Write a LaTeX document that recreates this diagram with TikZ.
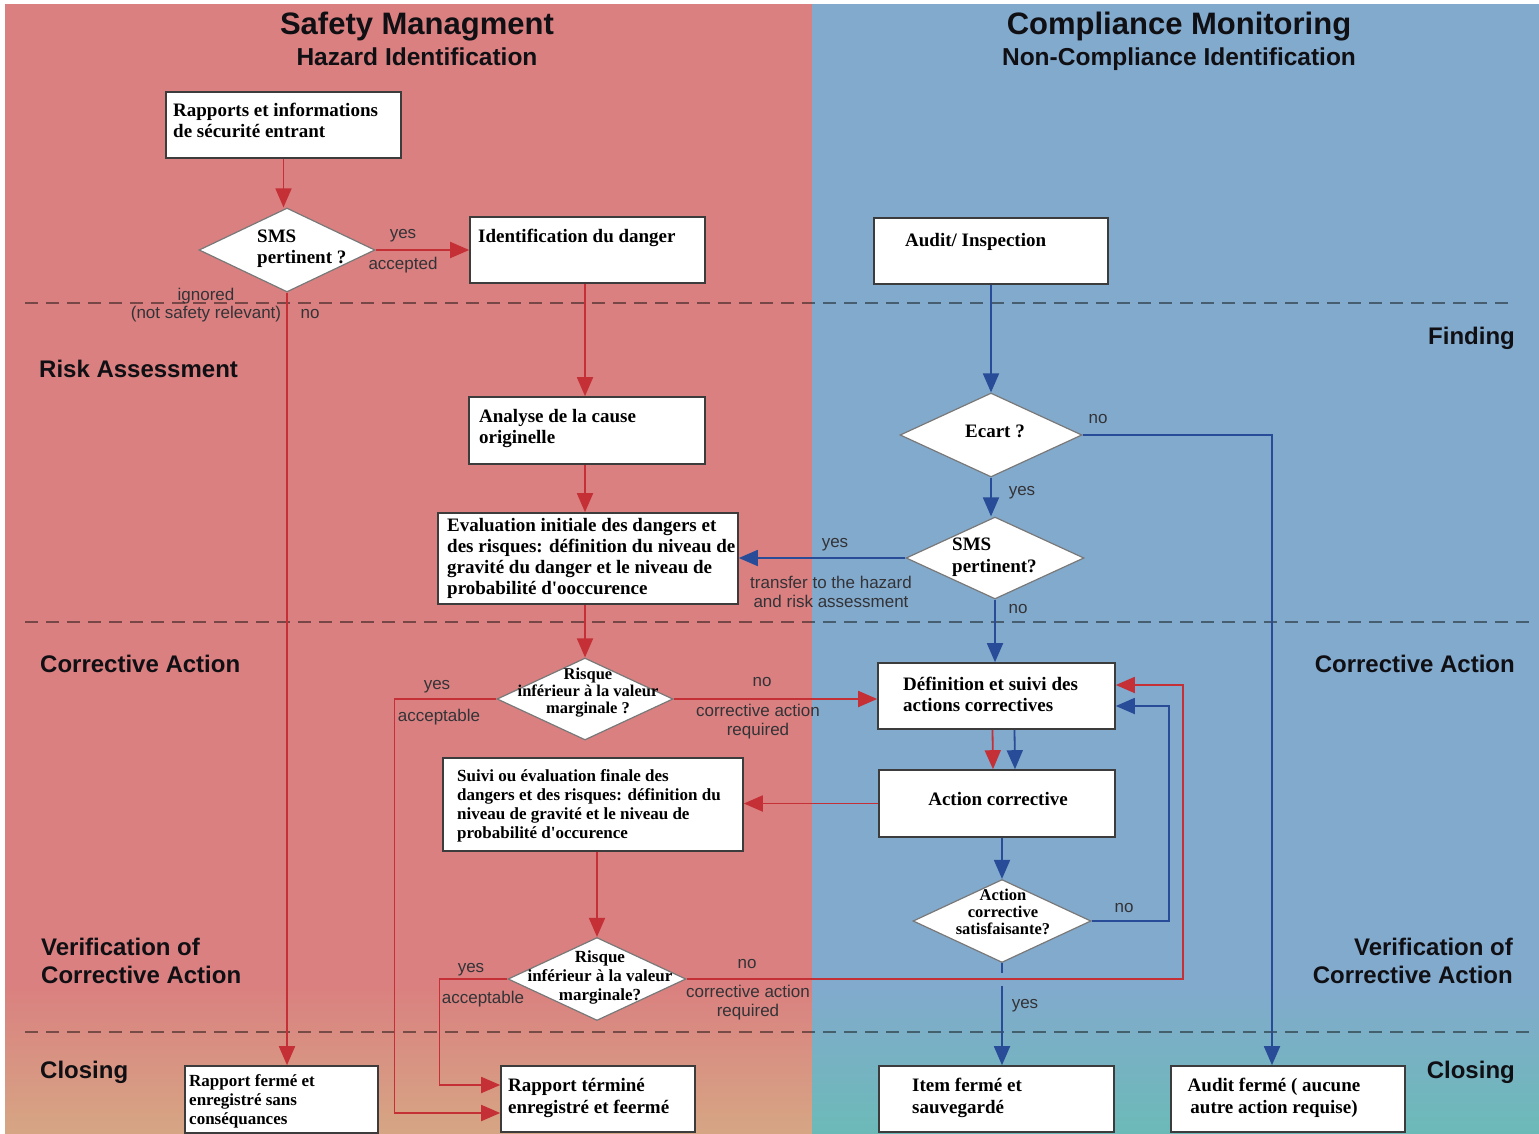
\documentclass[tikz,border=0pt]{standalone}
\usepackage{fontspec}
\setmainfont{Liberation Serif}
\newfontfamily\sansfam{Liberation Sans}
\usetikzlibrary{shapes.geometric,arrows.meta}

\definecolor{panelred}{RGB}{218,128,128}
\definecolor{paneltan}{RGB}{214,166,132}
\definecolor{panelblue}{RGB}{130,170,205}
\definecolor{panelteal}{RGB}{108,186,184}
\definecolor{redline}{RGB}{196,48,54}
\definecolor{blueline}{RGB}{40,76,152}
\definecolor{boxline}{RGB}{60,60,60}
\definecolor{diaedge}{RGB}{120,120,120}
\definecolor{ink}{RGB}{15,15,20}

\begin{document}
\begin{tikzpicture}[x=1pt,y=-1pt,
  box/.style={draw=boxline, fill=white, line width=1.6pt, inner sep=0pt},
  dia/.style={diamond, draw=diaedge, fill=white, line width=1.2pt, inner sep=0pt},
  btx/.style={font=\fontsize{19}{21}\selectfont\bfseries, align=left, inner sep=0pt, anchor=base west, text=black},
  btxs/.style={btx, font=\fontsize{17}{19}\selectfont\bfseries},
  dtx/.style={font=\fontsize{16.5}{17}\selectfont\bfseries, align=center, inner sep=0pt, anchor=base},
  dtxm/.style={dtx, font=\fontsize{17}{19}\selectfont\bfseries},
  lbl/.style={font=\sansfam\fontsize{17}{19}\selectfont, inner sep=0pt, anchor=base, text=ink!85},
  sect/.style={font=\sansfam\bfseries\fontsize{24}{28}\selectfont, inner sep=0pt, align=left, anchor=base west, text=ink},
  sectr/.style={sect, align=right, anchor=base east},
  ttl/.style={font=\sansfam\bfseries\fontsize{31}{34}\selectfont, inner sep=0pt, anchor=base, text=ink},
  subttl/.style={font=\sansfam\bfseries\fontsize{24.5}{28}\selectfont, inner sep=0pt, anchor=base, text=ink},
  sep/.style={draw=black, draw opacity=0.45, line width=2pt, dash pattern=on 13pt off 8pt},
  tip/.style={-{Triangle[length=19pt,width=16pt]}},
  rl/.style={draw=redline, line width=1.8pt},
  bl/.style={draw=blueline, line width=1.8pt},
]
% page and the two panels
\useasboundingbox (0,0) rectangle (1539,1134);
\fill[white] (0,0) rectangle (1539,1134);
\fill[panelred] (5,4) rectangle (812,1134);
\fill[panelblue] (812,4) rectangle (1539,1134);
\shade[top color=panelred, bottom color=paneltan] (5,985) rectangle (812,1134);
\shade[top color=panelblue, bottom color=panelteal] (812,985) rectangle (1539,1134);

% phase separators
\draw[sep] (25,303) -- (1515,303);
\draw[sep] (25,622) -- (1530,622);
\draw[sep] (25,1032) -- (1530,1032);

% headings
\node[ttl] (h1) at (417,35) {Safety Managment};
\node[subttl] (h2) at (417,66) {Hazard Identification};
\node[ttl] (h3) at (1179,35) {Compliance Monitoring};
\node[subttl] (h4) at (1179,66) {Non-Compliance Identification};

% phase names (multi-line nodes sit on their last baseline)
\node[sect] (s1) at (39,377) {Risk Assessment};
\node[sectr] (s2) at (1515,344) {Finding};
\node[sect] (s3) at (40,672) {Corrective Action};
\node[sectr] (s4) at (1515,672) {Corrective Action};
\node[sect] (s5) at (41,983) {Verification of\\Corrective Action};
\node[sectr] (s6) at (1513,983) {Verification of\\Corrective Action};
\node[sect] (s7) at (40,1078) {Closing};
\node[sectr] (s8) at (1515,1078) {Closing};

% process boxes
\node[box, minimum width=235, minimum height=66] (rap) at (283.5,125) {};
\node[box, minimum width=235, minimum height=66] (ident) at (587.5,250) {};
\node[box, minimum width=234, minimum height=66] (audit) at (991,251) {};
\node[box, minimum width=236, minimum height=67] (analyse) at (587,430.5) {};
\node[box, minimum width=300, minimum height=91] (evalinit) at (588,558.5) {};
\node[box, minimum width=237, minimum height=66] (defin) at (996.5,696) {};
\node[box, minimum width=236, minimum height=67] (actcor) at (997,803.5) {};
\node[box, minimum width=300, minimum height=93] (suivi) at (593,804.5) {};
\node[box, minimum width=193, minimum height=67] (closed1) at (281.5,1099.5) {};
\node[box, minimum width=194, minimum height=66] (closed2) at (598,1099) {};
\node[box, minimum width=235, minimum height=66] (item) at (996.5,1099) {};
\node[box, minimum width=234, minimum height=66] (auditclosed) at (1288,1099) {};

% decisions
\node[dia, minimum width=176, minimum height=84] (d1) at (287,250) {};
\node[dia, minimum width=182, minimum height=84] (d2) at (991,435) {};
\node[dia, minimum width=178, minimum height=82] (d3) at (995,558) {};
\node[dia, minimum width=176, minimum height=82] (d4) at (585,699) {};
\node[dia, minimum width=178, minimum height=83] (d5) at (1002,921) {};
\node[dia, minimum width=178, minimum height=83] (d6) at (597,979) {};

% box texts
\node[btx] at (173,138) {Rapports et informations\\de sécurité entrant};
\node[btx] at (478,242) {Identification du danger};
\node[btx] at (905,247) {Audit/ Inspection};
\node[btx] at (479,443) {Analyse de la cause\\originelle};
\node[btx] at (447,594) {Evaluation initiale des dangers et\\des risques: définition du niveau de\\gravité du danger et le niveau de\\probabilité d\textquotesingle ooccurence};
\node[btx] at (903,711) {Définition et suivi des\\actions correctives};
\node[btx, anchor=base] at (998,805) {Action corrective};
\node[btxs] at (457,838) {Suivi ou évaluation finale des\\dangers et des risques: définition du\\niveau de gravité et le niveau de\\probabilité d\textquotesingle occurence};
\node[btxs] at (189,1124) {Rapport fermé et\\enregistré sans\\conséquances};
\node[btx, font=\fontsize{19}{22}\selectfont\bfseries] at (508,1113) {Rapport términé\\enregistré et feermé};
\node[btx, font=\fontsize{19}{22}\selectfont\bfseries] at (912,1113) {Item fermé et\\sauvegardé};
\node[btx, font=\fontsize{19}{22}\selectfont\bfseries, align=center, anchor=base] at (1274,1113) {Audit fermé ( aucune\\autre action requise)};

% decision texts
\node[dtxm, align=left, anchor=base west, font=\fontsize{19}{21}\selectfont\bfseries] at (257,263) {SMS\\pertinent ?};
\node[dtxm, font=\fontsize{19}{21}\selectfont\bfseries] at (995,437) {Ecart ?};
\node[dtxm, align=left, anchor=base west, font=\fontsize{19}{22}\selectfont\bfseries] at (952,572) {SMS\\pertinent?};
\node[dtx] at (588,713) {Risque\\inférieur à la valeur\\marginale ?};
\node[dtx] at (1003,934) {Action\\corrective\\satisfaisante?};
\node[dtxm] at (600,1000) {Risque\\inférieur à la valeur\\marginale?};

% safety management flow
\draw[rl, tip] (rap.south) -- (rap.south |- d1.north);
\draw[rl, tip] (d1.east) -- (ident.west);
\draw[rl, tip] (d1.south) -- (d1.south |- closed1.north);
\draw[rl, tip] (ident.south -| d4.north) -- (analyse.north -| d4.north);
\draw[rl, tip] (analyse.south -| d4.north) -- (evalinit.north -| d4.north);
\draw[rl, tip] (evalinit.south -| d4.north) -- (d4.north);
\draw[rl, tip] (d4.west) -- ++(-102,0) |- ([yshift=-14pt]closed2.west);
\draw[rl, tip] (d4.east) -- (d4.east -| defin.west);
\draw[rl, tip] ([xshift=-4pt]defin.south) -- ([xshift=-4pt]actcor.north);
\draw[rl, tip] (actcor.west) -- (actcor.west -| suivi.east);
\draw[rl, tip] (suivi.south -| d6.north) -- (d6.north);
\draw[rl, tip] (d6.west) -- ++(-68,0) |- ([yshift=14pt]closed2.west);

% compliance monitoring flow
\draw[bl, tip] (audit.south) -- (d2.north);
\draw[bl, tip] (d2.east) -| ([xshift=-16pt]auditclosed.north);
\draw[bl, tip] (d2.south) -- (d2.south |- d3.north);
\draw[bl, tip] (d3.west) -- (d3.west -| evalinit.east);
\draw[bl, tip] (d3.south) -- (d3.south |- defin.north);
\draw[bl, tip] ([xshift=18pt]defin.south) -- ([xshift=18pt]actcor.north);
\draw[bl, tip] (d5.north |- actcor.south) -- (d5.north);
\draw[bl, tip] (d5.east) -- ++(77,0) |- ([yshift=-10pt]defin.east);
\draw[bl, tip] (d5.south) -- ++(0,10) ++(0,13) -- (d5.south |- item.north);

% failed re-check returns to the corrective action definition
\draw[rl, tip] (d6.east) -- ++(496,0) |- ([yshift=11pt]defin.east);

% connector labels
\node[lbl] at (403,238) {yes};
\node[lbl] at (403,269) {accepted};
\node[lbl] at (206,300) {ignored};
\node[lbl] at (206,318) {(not safety relevant)};
\node[lbl] at (310,318) {no};
\node[lbl] at (1098,423) {no};
\node[lbl] at (1022,495) {yes};
\node[lbl] at (835,547) {yes};
\node[lbl] at (831,588) {transfer to the hazard};
\node[lbl] at (831,607) {and risk assessment};
\node[lbl] at (1018,613) {no};
\node[lbl] at (437,689) {yes};
\node[lbl] at (439,721) {acceptable};
\node[lbl] at (762,686) {no};
\node[lbl] at (758,716) {corrective action};
\node[lbl] at (758,735) {required};
\node[lbl] at (1124,912) {no};
\node[lbl] at (471,972) {yes};
\node[lbl] at (483,1003) {acceptable};
\node[lbl] at (747,968) {no};
\node[lbl] at (748,997) {corrective action};
\node[lbl] at (748,1016) {required};
\node[lbl] at (1025,1008) {yes};
\end{tikzpicture}
\end{document}
